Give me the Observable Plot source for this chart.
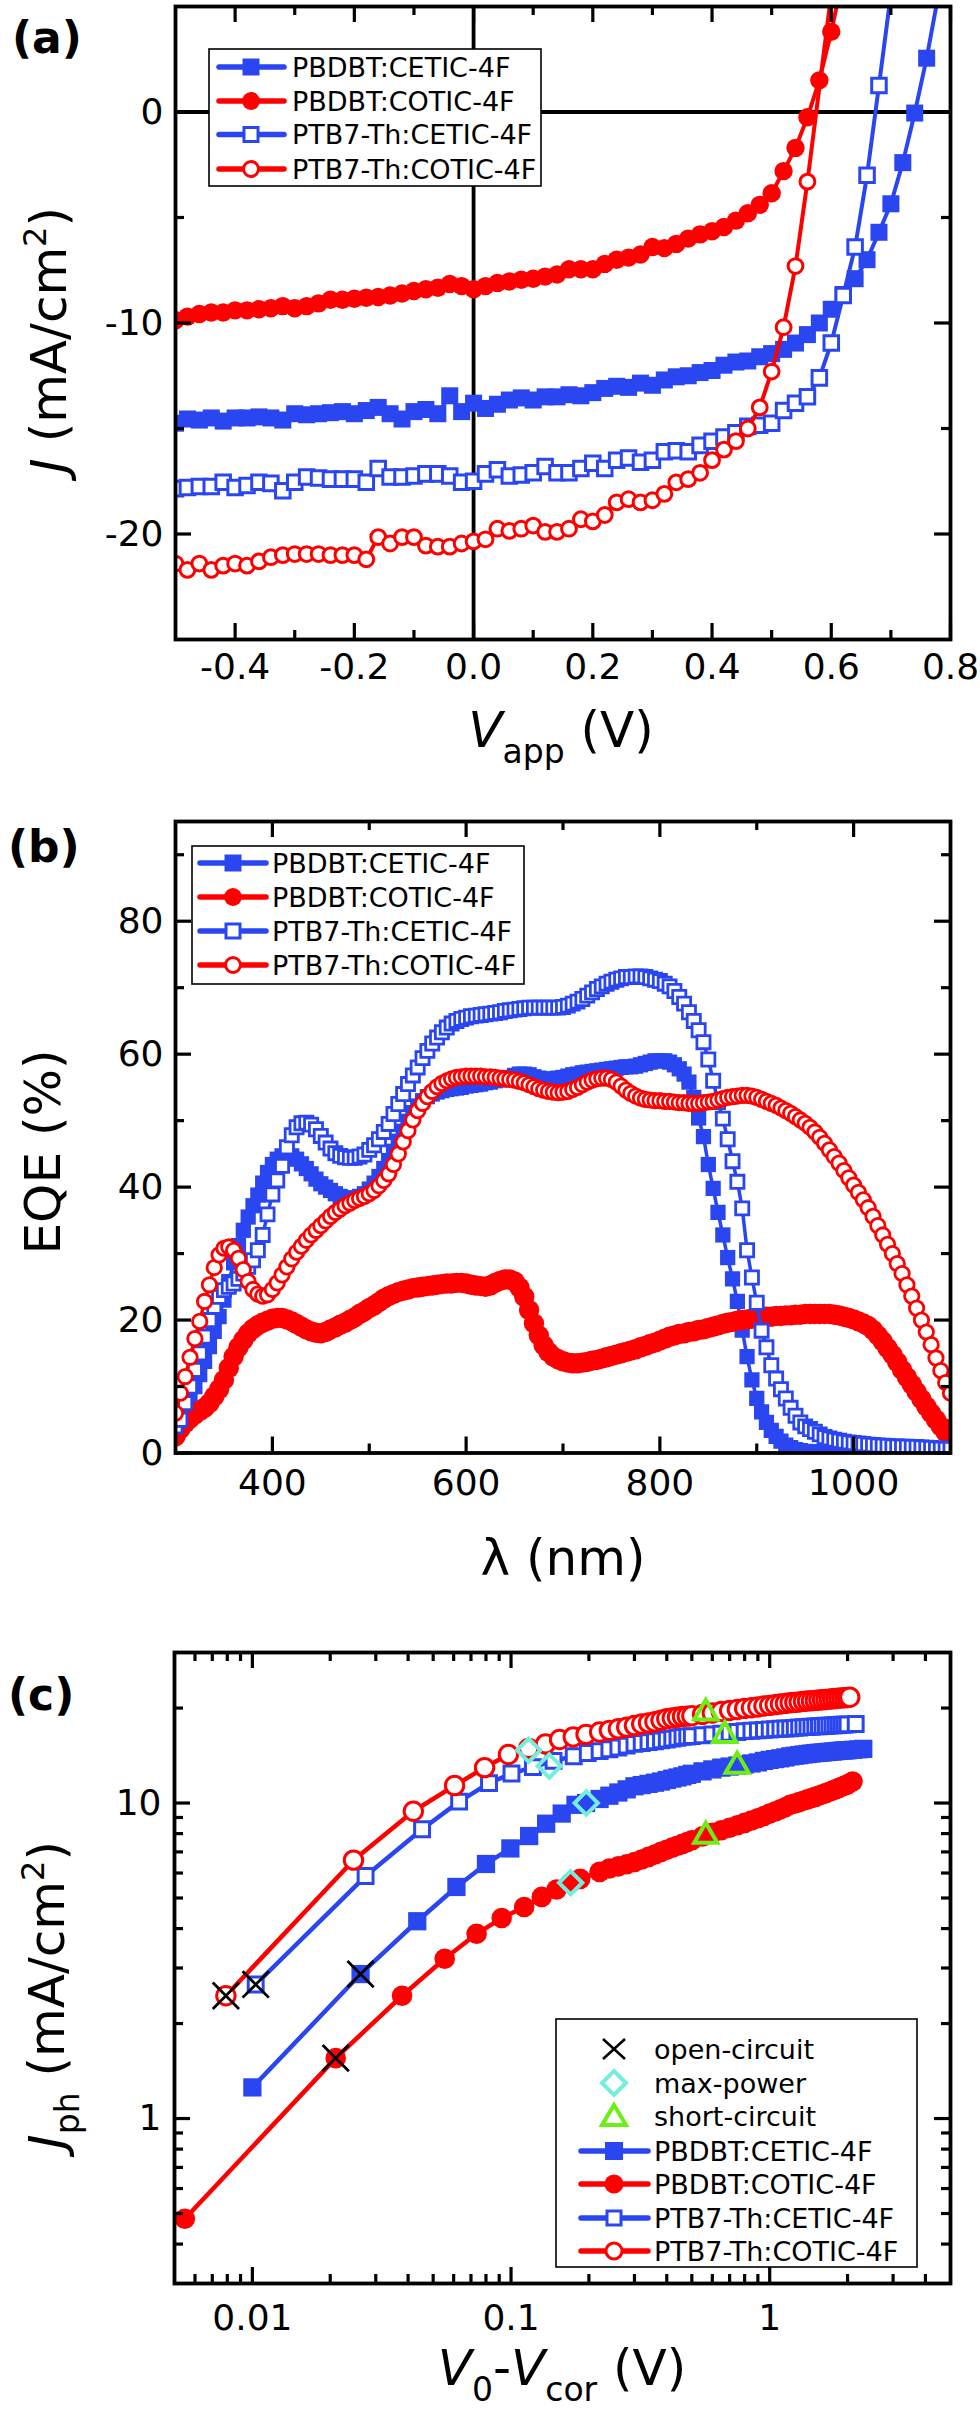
<!DOCTYPE html>
<html><head><meta charset="utf-8">
<script src="https://cdn.jsdelivr.net/npm/d3@7"></script>
<script src="https://cdn.jsdelivr.net/npm/@observablehq/plot@0.6"></script>
<style>
body{margin:0;background:#fff;}
#fig{position:relative;width:980px;height:2412px;overflow:hidden;background:#fff;}
</style></head><body><div id="fig"></div>
<script>
// ---------------- DATA ----------------
const seriesNames = ["PBDBT:CETIC-4F","PBDBT:COTIC-4F","PTB7-Th:CETIC-4F","PTB7-Th:COTIC-4F"];

// Panel (a): J–V curves, V_app (V) and J (mA/cm2)
const vA = [-0.50,-0.48,-0.46,-0.44,-0.42,-0.40,-0.38,-0.36,-0.34,-0.32,-0.30,-0.28,-0.26,-0.24,-0.22,-0.20,-0.18,-0.16,-0.14,-0.12,-0.10,-0.08,-0.06,-0.04,-0.02,0.00,0.02,0.04,0.06,0.08,0.10,0.12,0.14,0.16,0.18,0.20,0.22,0.24,0.26,0.28,0.30,0.32,0.34,0.36,0.38,0.40,0.42,0.44,0.46,0.48,0.50,0.52,0.54,0.56,0.58,0.60,0.62,0.64,0.66,0.68,0.70,0.72,0.74,0.76,0.78];
const jA_PBDBT_CETIC = [-14.75,-14.55,-14.6,-14.5,-14.65,-14.5,-14.5,-14.45,-14.5,-14.6,
 -14.3,-14.35,-14.3,-14.25,-14.2,-14.3,-14.15,-14.0,-14.3,-14.55,
 -14.2,-14.1,-14.3,-13.45,-14.2,-13.8,-14.05,-13.85,-13.65,-13.55,
 -13.65,-13.5,-13.5,-13.4,-13.45,-13.3,-13.1,-13.0,-13.05,-12.85,
 -12.95,-12.7,-12.55,-12.5,-12.35,-12.25,-12.0,-11.85,-11.8,-11.6,
 -11.45,-11.25,-10.95,-10.55,-10.0,-9.35,-8.65,-7.9,-7.0,-5.7,
 -4.35,-2.4,-0.05,2.55,5.6];
const jA_PBDBT_COTIC = [-9.87,-9.7,-9.57,-9.5,-9.5,-9.4,-9.4,-9.35,-9.3,-9.2,
 -9.3,-9.2,-9.07,-8.9,-8.9,-8.85,-8.8,-8.77,-8.7,-8.6,
 -8.48,-8.4,-8.33,-8.15,-8.25,-8.4,-8.25,-8.1,-8.03,-7.95,
 -7.9,-7.8,-7.7,-7.45,-7.45,-7.45,-7.2,-7.0,-6.9,-6.75,
 -6.4,-6.45,-6.25,-6.0,-5.8,-5.65,-5.45,-5.15,-4.8,-4.4,
 -3.85,-2.8,-1.7,-0.25,1.5,3.8,6.5];
const jA_PTB7_CETIC = [-17.85,-17.8,-17.75,-17.75,-17.55,-17.8,-17.7,-17.55,-17.6,-17.95,
 -17.55,-17.3,-17.35,-17.4,-17.4,-17.4,-17.55,-16.9,-17.3,-17.3,
 -17.25,-17.15,-17.15,-17.25,-17.55,-17.5,-17.15,-16.95,-17.25,-17.2,
 -17.1,-16.8,-17.1,-17.1,-16.9,-16.65,-16.9,-16.5,-16.4,-16.6,
 -16.5,-16.1,-16.05,-16.1,-15.8,-15.6,-15.4,-15.2,-14.9,-14.85,
 -14.75,-14.15,-13.8,-13.5,-12.6,-10.95,-8.7,-6.4,-3.0,1.26,5.6];
const jA_PTB7_COTIC = [-21.4,-21.7,-21.4,-21.7,-21.5,-21.4,-21.5,-21.3,-21.1,-21.0,
 -20.95,-20.95,-20.95,-21.0,-21.0,-21.0,-21.2,-20.15,-20.45,-20.15,
 -20.15,-20.55,-20.6,-20.6,-20.45,-20.35,-20.25,-19.75,-19.85,-19.75,
 -19.6,-19.9,-19.9,-19.75,-19.3,-19.4,-19.1,-18.5,-18.35,-18.5,
 -18.4,-18.1,-17.55,-17.4,-17.1,-16.5,-16.0,-15.6,-15.0,-14.0,
 -12.3,-10.2,-7.3,-3.3,null,5.6];
const aTicksX = [-0.4,-0.2,0.0,0.2,0.4,0.6,0.8];
const aMinorX = [-0.3,-0.1,0.1,0.3,0.5,0.7];
const aTicksY = [-20,-10,0];
const aMinorY = [-15,-5];

// Panel (b): EQE spectra, wavelength (nm) and EQE (%)
const lamB = [300,305,310,315,320,325,330,335,340,345,350,355,360,365,370,375,380,385,390,395,
 400,405,410,415,420,425,430,435,440,445,450,455,460,465,470,475,480,485,490,495,
 500,505,510,515,520,525,530,535,540,545,550,555,560,565,570,575,580,585,590,595,
 600,605,610,615,620,625,630,635,640,645,650,655,660,665,670,675,680,685,690,695,
 700,705,710,715,720,725,730,735,740,745,750,755,760,765,770,775,780,785,790,795,
 800,805,810,815,820,825,830,835,840,845,850,855,860,865,870,875,880,885,890,895,
 900,905,910,915,920,925,930,935,940,945,950,955,960,965,970,975,980,985,990,995,
 1000,1005,1010,1015,1020,1025,1030,1035,1040,1045,1050,1055,1060,1065,1070,1075,1080,1085,1090,1095,1100];
const eqe_PBDBT_CETIC = [4.0,5.5,7.0,8.5,10.0,11.8,13.8,16.0,18.3,20.5,
 23.0,25.8,28.6,31.2,33.5,35.5,37.2,38.8,40.6,42.2,
 43.4,44.2,44.7,44.9,44.7,44.2,43.5,42.8,42.0,41.2,
 40.5,40.0,39.5,39.0,38.6,38.4,38.3,38.3,38.6,39.0,
 39.7,40.6,41.6,42.8,44.0,45.4,46.9,48.4,49.9,51.2,
 52.2,53.0,53.6,54.0,54.3,54.5,54.7,54.8,54.9,55.0,
 55.2,55.3,55.4,55.5,55.7,55.8,56.0,56.1,56.3,56.5,
 56.8,57.0,57.0,56.9,56.6,56.4,56.2,56.2,56.3,56.4,
 56.5,56.7,56.9,57.0,57.2,57.3,57.4,57.5,57.6,57.7,
 57.8,57.9,58.0,58.1,58.1,58.2,58.4,58.6,58.8,59.0,
 59.0,59.0,58.8,58.4,57.8,57.0,55.8,53.5,50.4,47.6,
 43.4,39.8,36.2,32.8,29.4,26.2,22.8,18.5,14.5,11.0,
 8.2,6.2,4.6,3.4,2.5,1.8,1.2,0.8,0.5,0.35,
 0.25,0.2,0.15,0.1,0.1,0.05,0.05,0,0,0];
const eqe_PBDBT_COTIC = [2.5,3.6,4.5,5.2,5.8,6.3,6.8,7.5,8.5,9.6,
 11.0,12.8,14.5,15.9,17.0,18.0,18.7,19.2,19.6,19.9,
 20.2,20.3,20.3,20.1,19.8,19.4,19.0,18.6,18.3,18.1,
 18.0,18.2,18.6,18.9,19.3,19.6,20.0,20.4,20.9,21.3,
 21.8,22.2,22.7,23.2,23.6,23.9,24.2,24.4,24.6,24.8,
 24.9,25.0,25.1,25.2,25.3,25.4,25.5,25.5,25.6,25.6,
 25.5,25.3,25.2,25.1,25.0,25.2,25.6,25.9,26.1,26.1,
 25.8,24.9,23.5,21.5,19.5,17.7,16.2,15.2,14.5,14.1,
 13.8,13.6,13.5,13.5,13.6,13.7,13.9,14.0,14.2,14.4,
 14.6,14.8,15.0,15.2,15.4,15.6,15.9,16.1,16.4,16.6,
 16.9,17.2,17.5,17.7,17.9,18.0,18.2,18.3,18.5,18.6,
 18.8,19.0,19.2,19.4,19.6,19.7,19.9,20.0,20.1,20.2,
 20.3,20.4,20.5,20.5,20.6,20.6,20.7,20.7,20.8,20.8,
 20.9,20.9,20.9,20.9,20.9,20.9,20.8,20.7,20.5,20.3,
 20.1,19.8,19.5,19.1,18.5,17.7,16.8,15.8,14.8,13.7,
 12.5,11.4,10.3,9.2,8.1,7.0,6.0,5.0,4.0,3.1,
 2.2];
const eqe_PTB7_CETIC = [4.0,5.0,7.5,10.0,12.5,15.0,17.5,20.0,22.0,23.5,
 24.5,25.0,25.5,26.2,27.0,28.0,29.0,30.5,32.8,35.9,
 38.9,41.0,43.2,46.0,47.8,49.0,49.6,49.7,49.4,48.7,
 47.7,46.7,45.8,45.1,44.7,44.5,44.4,44.4,44.6,44.9,
 45.6,46.3,47.2,48.3,49.5,51.0,52.5,54.0,55.5,56.8,
 58.0,59.4,60.5,61.6,62.5,63.3,64.0,64.6,65.0,65.3,
 65.5,65.7,65.8,65.9,66.0,66.1,66.2,66.3,66.5,66.6,
 66.7,66.8,66.9,67.0,67.0,67.0,67.0,67.0,67.0,67.0,
 67.1,67.3,67.6,67.9,68.3,68.8,69.3,69.8,70.2,70.6,
 70.9,71.2,71.4,71.6,71.6,71.7,71.7,71.6,71.4,71.2,
 71.0,70.6,70.2,69.5,68.6,67.6,66.3,65.0,63.6,61.8,
 59.2,56.0,52.8,50.3,47.2,43.9,40.8,36.8,30.5,26.4,
 22.6,18.4,15.9,13.2,11.2,9.6,8.2,6.8,5.6,4.6,
 4.0,3.6,3.2,2.8,2.4,2.2,2.0,1.85,1.7,1.6,
 1.5,1.45,1.35,1.25,1.2,1.15,1.1,1.05,1.0,1.0,
 0.95,0.95,0.9,0.9,0.85,0.8,0.75,0.7,0.65,0.6,
 0.6];
const eqe_PTB7_COTIC = [6.0,9.0,11.5,14.4,17.2,19.8,22.8,25.3,27.9,29.8,
 30.8,31.0,30.5,29.3,27.6,25.8,24.6,23.9,23.6,23.8,
 24.6,25.6,26.8,28.0,29.2,30.2,31.1,32.0,32.8,33.5,
 34.2,34.9,35.6,36.2,36.7,37.2,37.6,38.0,38.3,38.6,
 39.0,39.5,40.2,41.0,42.0,43.4,45.0,46.8,48.5,50.1,
 51.5,52.6,53.6,54.4,55.1,55.6,56.0,56.3,56.5,56.6,
 56.7,56.7,56.7,56.7,56.6,56.6,56.5,56.4,56.3,56.2,
 56.1,55.9,55.7,55.4,55.1,54.8,54.6,54.4,54.3,54.2,
 54.3,54.4,54.7,55.0,55.4,55.8,56.1,56.3,56.4,56.4,
 56.2,55.8,55.2,54.6,54.1,53.7,53.4,53.2,53.1,53.0,
 53.0,52.9,52.9,52.8,52.7,52.7,52.6,52.6,52.6,52.7,
 52.8,52.9,53.1,53.3,53.5,53.6,53.7,53.8,53.8,53.7,
 53.5,53.2,52.9,52.6,52.3,51.9,51.5,51.1,50.6,50.1,
 49.6,49.0,48.3,47.5,46.6,45.6,44.6,43.6,42.5,41.4,
 40.3,39.2,38.1,36.9,35.6,34.2,32.8,31.4,30.0,28.5,
 27.0,25.3,23.6,21.8,20.0,18.2,16.3,14.3,12.4,10.6,
 9.0];
const bTicksX = [400,600,800,1000];
const bMinorX = [500,700,900];
const bTicksY = [0,20,40,60,80];
const bMinorY = [10,30,50,70,90];

// Panel (c): photocurrent vs effective voltage, V0-Vcor (V) and Jph (mA/cm2)
const xGridC = [0.22,0.24,0.26,0.28,0.30,0.32,0.34,0.36,0.38,0.40,0.42,0.44,0.46,0.48,0.50,0.55,0.60,0.65,0.70,0.75,0.80,0.85,0.90,0.95,1.00,1.05,1.10,1.15,1.20,1.25,1.30,1.35,1.40,1.45,1.50,1.55,1.60,1.65,1.70,1.75,1.80,1.85,1.90,1.95,2.00];
const xC_PBDBT_CETIC = [0.0100,0.0262,0.0434,0.0615,0.0800,0.0994,0.1175,0.1367,0.1570,0.1775,0.1950, ...xGridC, 2.10,2.20,2.30];
const jC_PBDBT_CETIC = [1.255,2.87,4.22,5.42,6.41,7.18,7.86,8.60,9.26,9.87,10.0,
 10.3,10.55,10.8,11.05,11.3,11.4,11.5,11.6,11.7,11.83,11.95,12.05,12.15,12.28,12.38,
 12.6,12.78,12.95,13.05,13.15,13.25,13.35,13.45,13.6,13.7,13.78,13.86,13.95,14.06,14.12,
 14.18,14.25,14.3,14.35,14.4,14.43,14.46,14.5,14.53,14.56,14.6,14.63,14.66,14.68,14.7,
 14.75,14.8,14.85];
const xC_PBDBT_COTIC = [0.00548,0.0210,0.0379,0.0554,0.0736,0.0920,0.1124,0.1314,0.1500,0.1700,0.1850, ...xGridC, 2.09];
const jC_PBDBT_COTIC = [0.481,1.554,2.45,3.21,3.85,4.32,4.68,5.04,5.32,5.59,5.75,
 6.05,6.2,6.3,6.4,6.5,6.62,6.75,6.87,7.0,7.11,7.22,7.32,7.42,7.52,7.62,
 7.84,8.04,8.2,8.35,8.5,8.65,8.8,8.95,9.1,9.26,9.4,9.55,9.7,9.87,9.97,
 10.07,10.17,10.27,10.37,10.46,10.56,10.66,10.76,10.86,10.96,11.06,11.16,11.26,11.36,11.46,
 11.7];
const xC_PTB7_CETIC = [0.0103,0.0274,0.0453,0.0630,0.0822,0.1004,0.1215,0.1460,0.1747,0.1980, ...xGridC, 2.15];
const jC_PTB7_CETIC = [2.66,5.87,8.26,10.1,11.56,12.4,13.0,13.6,14.07,14.4,
 14.6,14.8,15.0,15.2,15.4,15.5,15.6,15.7,15.8,15.9,16.0,16.1,16.2,16.25,16.3,
 16.4,16.5,16.6,16.7,16.8,16.9,16.95,17.0,17.05,17.1,17.15,17.2,17.22,17.25,17.3,
 17.35,17.4,17.42,17.45,17.5,17.52,17.55,17.57,17.6,17.62,17.65,17.68,17.7,17.72,17.75,
 17.8];
const xC_PTB7_COTIC = [0.0079,0.0246,0.0419,0.0605,0.0790,0.0977,0.1170,0.1360,0.1540,0.1740,0.1950, ...xGridC, 2.04];
const jC_PTB7_COTIC = [2.45,6.59,9.42,11.36,12.95,14.25,14.9,15.4,15.9,16.2,16.5,
 16.8,17.0,17.2,17.4,17.6,17.8,17.95,18.1,18.3,18.5,18.6,18.7,18.8,18.85,18.9,
 19.1,19.3,19.5,19.65,19.8,19.95,20.05,20.15,20.3,20.4,20.5,20.6,20.7,20.8,20.85,
 20.9,21.0,21.05,21.1,21.15,21.2,21.25,21.3,21.35,21.4,21.45,21.5,21.55,21.58,21.6,
 21.65];
const ocX = [0.0079,0.0103,0.0262,0.0210];
const ocY = [2.45,2.66,2.87,1.554];
const mpX = [0.117,0.1406,0.1953,0.170];
const mpY = [14.7,13.1,10.0,5.59];
const scX = [0.566,0.670,0.748,0.566];
const scY = [19.3,16.4,13.1,7.86];
const specialNames = ["open-circuit","max-power","short-circuit"];
const cTicksX = [0.01,0.1,1];
const cMinorX = [0.006,0.007,0.008,0.009,0.02,0.03,0.04,0.05,0.06,0.07,0.08,0.09,0.2,0.3,0.4,0.5,0.6,0.7,0.8,0.9,2,3,4];
const cTicksY = [1,10];
const cMinorY = [0.4,0.5,0.6,0.7,0.8,0.9,2,3,4,5,6,7,8,9,20];

// ---------------- STYLE ----------------
const FONT = "'DejaVu Sans', sans-serif";
const BLUE = "#2a46f0", RED = "#ff0000";
const CYAN = "#74eedc", GREEN = "#6cf014";
const styles = [
  {color: BLUE, symbol: "square", filled: true},
  {color: RED, symbol: "circle", filled: true},
  {color: BLUE, symbol: "square", filled: false},
  {color: RED, symbol: "circle", filled: false}
];
const W = 980;
const fig = document.getElementById("fig");

// inward ticks on all four sides, tick labels on bottom/left, heavy frame
function boxAxes(o) {
  const fw = W - o.ml - o.mr, fh = o.h - o.mt - o.mb;
  const k = {stroke: "black", strokeWidth: 3.2};
  const m = [];
  for (const [vals, len] of [[o.xMajor, o.major], [o.xMinor, o.minor]]) {
    m.push(Plot.tickX(vals, {...k, x: d => d, insetTop: fh - len}));
    m.push(Plot.tickX(vals, {...k, x: d => d, insetBottom: fh - len}));
  }
  for (const [vals, len] of [[o.yMajor, o.major], [o.yMinor, o.minor]]) {
    m.push(Plot.tickY(vals, {...k, y: d => d, insetRight: fw - len}));
    m.push(Plot.tickY(vals, {...k, y: d => d, insetLeft: fw - len}));
  }
  m.push(Plot.axisX(o.xMajor, {anchor: "bottom", tickSize: 0, tickPadding: o.xPad, fontSize: 36, fill: "black", stroke: "none", label: null, tickFormat: o.xFmt}));
  m.push(Plot.axisY(o.yMajor, {anchor: "left", tickSize: 0, tickPadding: o.yPad, fontSize: 36, fill: "black", stroke: "none", label: null, tickFormat: o.yFmt}));
  m.push(Plot.frame({stroke: "black", strokeWidth: 3.8}));
  return m;
}

function seriesMarks(datasets, sizes, lw) {
  const m = [];
  datasets.forEach((data, i) => {
    const s = styles[i], z = sizes[i];
    const pts = data.filter(d => d.y != null);
    m.push(Plot.line(pts, {x: "x", y: "y", stroke: s.color, strokeWidth: lw, clip: true}));
    m.push(Plot.dot(pts, {x: "x", y: "y", symbol: s.symbol, r: z.r,
      fill: s.filled ? s.color : "white", stroke: s.filled ? "none" : s.color,
      strokeWidth: s.filled ? 0 : z.sw, clip: true}));
  });
  return m;
}

function place(svg, top) {
  svg.style.position = "absolute";
  svg.style.left = "0px";
  svg.style.top = top + "px";
  fig.appendChild(svg);
}

// ---- Panel (a)
const LA = {h: 800, ml: 175, mr: 30, mt: 6, mb: 161};
const dataA = [jA_PBDBT_CETIC, jA_PBDBT_COTIC, jA_PTB7_CETIC, jA_PTB7_COTIC]
  .map(arr => arr.map((j, i) => ({x: vA[i], y: j})));
place(Plot.plot({
  width: W, height: LA.h, marginLeft: LA.ml, marginRight: LA.mr, marginTop: LA.mt, marginBottom: LA.mb,
  style: {fontFamily: FONT, color: "black"},
  x: {domain: [-0.5, 0.8]}, y: {domain: [-25, 5]},
  marks: [
    Plot.ruleY([0], {stroke: "black", strokeWidth: 3.8}),
    Plot.ruleX([0], {stroke: "black", strokeWidth: 3.8}),
    ...seriesMarks(dataA, [{r: 9.6}, {r: 9.2}, {r: 8.2, sw: 3}, {r: 7.4, sw: 3}], 4),
    ...boxAxes({...LA, xMajor: aTicksX, xMinor: aMinorX, yMajor: aTicksY, yMinor: aMinorY, major: 16, minor: 9,
      xPad: 14, yPad: 12, xFmt: d => d.toFixed(1), yFmt: d => String(d)})
  ]
}), 0);

// ---- Panel (b)
const LB = {h: 780, ml: 175, mr: 30, mt: 21, mb: 127.5};
const dataB = [eqe_PBDBT_CETIC, eqe_PBDBT_COTIC, eqe_PTB7_CETIC, eqe_PTB7_COTIC]
  .map(arr => arr.map((e, i) => ({x: lamB[i], y: e})));
place(Plot.plot({
  width: W, height: LB.h, marginLeft: LB.ml, marginRight: LB.mr, marginTop: LB.mt, marginBottom: LB.mb,
  style: {fontFamily: FONT, color: "black"},
  x: {domain: [300, 1100]}, y: {domain: [0, 95]},
  marks: [
    ...seriesMarks(dataB, [{r: 8.6}, {r: 10.2}, {r: 7.4, sw: 2.8}, {r: 7.2, sw: 2.8}], 3.5),
    ...boxAxes({...LB, xMajor: bTicksX, xMinor: bMinorX, yMajor: bTicksY, yMinor: bMinorY, major: 16, minor: 9,
      xPad: 16, yPad: 12, xFmt: d => String(d), yFmt: d => String(d)})
  ]
}), 800);

// ---- Panel (c)
const LC = {h: 832, ml: 174, mr: 30, mt: 72, mb: 129};
const pairC = (xs, ys) => xs.map((x, i) => ({x, y: ys[i]}));
const dataC = [pairC(xC_PBDBT_CETIC, jC_PBDBT_CETIC), pairC(xC_PBDBT_COTIC, jC_PBDBT_COTIC),
  pairC(xC_PTB7_CETIC, jC_PTB7_CETIC), pairC(xC_PTB7_COTIC, jC_PTB7_COTIC)];
place(Plot.plot({
  width: W, height: LC.h, marginLeft: LC.ml, marginRight: LC.mr, marginTop: LC.mt, marginBottom: LC.mb,
  style: {fontFamily: FONT, color: "black"},
  x: {type: "log", domain: [0.005, 5]}, y: {type: "log", domain: [0.3, 30]},
  marks: [
    ...seriesMarks(dataC, [{r: 10.3}, {r: 10.3}, {r: 8.4, sw: 3}, {r: 9.2, sw: 3}], 4.5),
    Plot.dot(pairC(ocX, ocY), {x: "x", y: "y", symbol: "times", r: 12, stroke: "black", strokeWidth: 2.8, clip: true}),
    Plot.dot(pairC(mpX, mpY), {x: "x", y: "y", symbol: "diamond2", r: 10.5, stroke: CYAN, fill: "none", strokeWidth: 4, clip: true}),
    Plot.dot(pairC(scX, scY), {x: "x", y: "y", symbol: "triangle2", r: 11, stroke: GREEN, fill: "none", strokeWidth: 4, clip: true}),
    ...boxAxes({...LC, xMajor: cTicksX, xMinor: cMinorX, yMajor: cTicksY, yMinor: cMinorY, major: 16, minor: 9,
      xPad: 21, yPad: 13, xFmt: d => String(d), yFmt: d => String(d)})
  ]
}), 1580);

// ---------------- OVERLAY: titles, panel letters, legends ----------------
const ov = d3.select(fig).append("svg")
  .attr("width", 980).attr("height", 2412)
  .style("position", "absolute").style("left", "0px").style("top", "0px")
  .attr("font-family", FONT);

function rich(x, y, parts, {size = 50, rotate = 0, anchor = "middle", weight = "normal"} = {}) {
  const t = ov.append("text").attr("fill", "black")
    .attr("transform", `translate(${x},${y}) rotate(${rotate})`)
    .attr("text-anchor", anchor).attr("font-size", size).attr("font-weight", weight);
  parts.forEach(p => {
    const s = t.append("tspan").text(p.t);
    if (p.i) s.attr("font-style", "italic");
    if (p.s) s.attr("font-size", p.s);
    if (p.dy) s.attr("dy", p.dy);
  });
}
rich(12, 53, [{t: "(a)"}], {size: 44, anchor: "start", weight: "bold"});
rich(8, 862, [{t: "(b)"}], {size: 44, anchor: "start", weight: "bold"});
rich(8, 1710, [{t: "(c)"}], {size: 44, anchor: "start", weight: "bold"});
rich(66, 340, [{t: "J", i: true}, {t: " (mA/cm"}, {t: "2", s: 32, dy: -20}, {t: ")", dy: 20}], {rotate: -90});
rich(561, 747, [{t: "V", i: true}, {t: "app", s: 33, dy: 16}, {t: " (V)", dy: -16}]);
rich(60, 1152, [{t: "EQE (%)"}], {rotate: -90});
rich(563, 1575, [{t: "λ (nm)"}]);
rich(64, 1995, [{t: "J", i: true}, {t: "ph", s: 33, dy: 15}, {t: " (mA/cm", dy: -15}, {t: "2", s: 32, dy: -20}, {t: ")", dy: 20}], {rotate: -90});
rich(562, 2385, [{t: "V", i: true}, {t: "0", s: 33, dy: 16}, {t: "-", dy: -16}, {t: "V", i: true}, {t: "cor", s: 33, dy: 16}, {t: " (V)", dy: -16}]);

function swatch(cx, cy, st, lineFrom, lineTo, sz) {
  ov.append("line").attr("x1", lineFrom).attr("x2", lineTo).attr("y1", cy).attr("y2", cy)
    .attr("stroke", st.color).attr("stroke-width", 5.5).attr("stroke-linecap", "round");
  if (st.symbol === "square") {
    const s = st.filled ? sz.sq : sz.osq;
    ov.append("rect").attr("x", cx - s / 2).attr("y", cy - s / 2).attr("width", s).attr("height", s)
      .attr("fill", st.filled ? st.color : "white").attr("stroke", st.filled ? "none" : st.color).attr("stroke-width", 3);
  } else {
    const r = st.filled ? sz.ci : sz.oci;
    ov.append("circle").attr("cx", cx).attr("cy", cy).attr("r", r)
      .attr("fill", st.filled ? st.color : "white").attr("stroke", st.filled ? "none" : st.color).attr("stroke-width", 3);
  }
}
function legendBox(x0, y0, x1, y1) {
  ov.append("rect").attr("x", x0).attr("y", y0).attr("width", x1 - x0).attr("height", y1 - y0)
    .attr("fill", "white").attr("stroke", "black").attr("stroke-width", 1.6);
}
function legendText(x, y, t) {
  ov.append("text").attr("fill", "black").attr("x", x).attr("y", y + 9.5).attr("font-size", 27).text(t);
}
const sz = {sq: 17, osq: 14, ci: 9, oci: 7.5};
legendBox(209, 49, 541, 186);
[67, 101, 134.5, 169].forEach((yy, i) => { swatch(251, yy, styles[i], 219, 284, sz); legendText(292, yy, seriesNames[i]); });
legendBox(192, 846, 524, 984);
[863, 897, 931, 965].forEach((yy, i) => { swatch(233, yy, styles[i], 200, 266, sz); legendText(272, yy, seriesNames[i]); });
legendBox(556, 2019, 917, 2267);
const cRows = [2049, 2083, 2116, 2151, 2184, 2218, 2251];
{
  const cx = 614;
  ov.append("path").attr("d", `M${cx-11},${cRows[0]-10}L${cx+11},${cRows[0]+10}M${cx-11},${cRows[0]+10}L${cx+11},${cRows[0]-10}`)
    .attr("stroke", "black").attr("stroke-width", 2.6).attr("fill", "none");
  ov.append("path").attr("d", `M${cx},${cRows[1]-12}L${cx+12},${cRows[1]}L${cx},${cRows[1]+12}L${cx-12},${cRows[1]}Z`)
    .attr("stroke", CYAN).attr("stroke-width", 4).attr("fill", "none");
  ov.append("path").attr("d", `M${cx},${cRows[2]-11}L${cx+12},${cRows[2]+9}L${cx-12},${cRows[2]+9}Z`)
    .attr("stroke", GREEN).attr("stroke-width", 4).attr("fill", "none");
  specialNames.forEach((n, i) => legendText(654, cRows[i], n));
  for (let i = 0; i < 4; i++) {
    swatch(cx, cRows[i + 3], styles[i], 581, 648, {sq: 18, osq: 14, ci: 9.5, oci: 8});
    legendText(654, cRows[i + 3], seriesNames[i]);
  }
}
</script></body></html>
